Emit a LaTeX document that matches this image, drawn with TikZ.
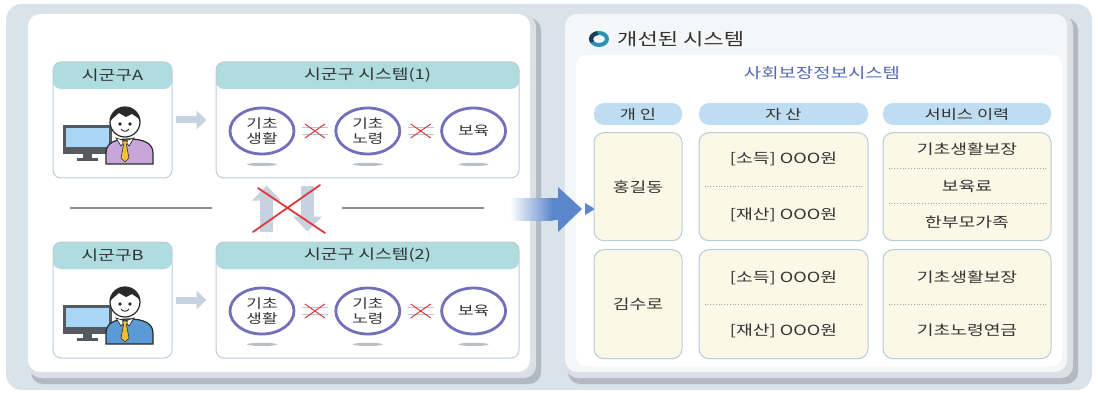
\documentclass[tikz,border=0pt]{standalone}
\usepackage{fontspec}
\newfontfamily\kr[FakeStretch=1.3]{Noto Sans CJK KR}
\usepackage{tikz}
\usetikzlibrary{arrows.meta,positioning,calc,shapes.geometric}
\definecolor{cBg}{HTML}{DAE3EA}
\definecolor{cPanel}{HTML}{F5F6F7}
\definecolor{cShadow}{HTML}{B2B9C0}
\definecolor{cBevel}{HTML}{DCE0E4}
\definecolor{cHead}{HTML}{AEDCDF}
\definecolor{cBoxEdge}{HTML}{BCCDD8}
\definecolor{cRing}{HTML}{7370BA}
\definecolor{cLight}{HTML}{C6D2DF}
\definecolor{cCross}{HTML}{E0393B}
\definecolor{cLink}{HTML}{A9CBE3}
\definecolor{cShade}{HTML}{BAC0C7}
\definecolor{cLine}{HTML}{8C8F92}
\definecolor{cArrow}{HTML}{5B86CB}
\definecolor{cTeal}{HTML}{2B93B5}
\definecolor{cTealDark}{HTML}{1D3B52}
\definecolor{cText}{HTML}{333333}
\definecolor{cSub}{HTML}{5767B4}
\definecolor{cPill}{HTML}{BFDDF2}
\definecolor{cCell}{HTML}{FBF8E7}
\definecolor{cCellEdge}{HTML}{B9CCD9}
\definecolor{cDot}{HTML}{A5A5A5}
\definecolor{cInk}{HTML}{2A2A2A}
\definecolor{cMon}{HTML}{555A60}
\definecolor{cScreen}{HTML}{A9D6F5}
\definecolor{cTie}{HTML}{F2C230}
\definecolor{cSuitA}{HTML}{C9A6DA}
\definecolor{cSuitB}{HTML}{5A9BD5}
\tikzset{
  unitbox/.style={rounded corners=8pt, draw=cBoxEdge, line width=1pt, fill=white,
    path picture={\fill[cHead] (path picture bounding box.north west)
      rectangle ([yshift=-27pt]path picture bounding box.north east);}},
  headtxt/.style={font=\kr\fontsize{14}{16}\selectfont, text=cText, inner sep=0pt},
  svc/.style={ellipse, draw=cRing, line width=2.8pt, fill=white, minimum width=64pt,
    minimum height=46pt, inner sep=0pt, align=center, text=cText,
    font=\kr\fontsize{13}{15}\selectfont},
  titletxt/.style={font=\kr\fontsize{17}{19}\selectfont, text=cText, inner sep=0pt},
  subtxt/.style={font=\kr\fontsize{14.5}{16}\selectfont, text=cSub, inner sep=0pt},
  pill/.style={rounded corners=10pt, fill=cPill, minimum height=22pt, inner sep=0pt,
    text=cText, font=\kr\fontsize{13.5}{15}\selectfont},
  cell/.style={rounded corners=10pt, draw=cCellEdge, line width=1pt, fill=cCell,
    inner sep=0pt, text=cText, font=\kr\fontsize{14}{16}\selectfont},
  celltxt/.style={text=cText, inner sep=0pt, font=\kr\fontsize{14}{16}\selectfont},
  dotrule/.style={draw=cDot, line width=0.8pt, dotted},
  feed/.style={-{Triangle[length=10pt,width=18pt]}, line width=7pt, draw=cLight},
  flowcross/.style={-{Triangle[length=15pt,width=28pt]}, line width=13pt, draw=cLight},
  redx/.style={draw=cCross, line width=1.8pt, line cap=round},
  divider/.style={draw=cLine, line width=2.4pt},
  pics/clerk/.style={code={
    \fill[cMon] (-62,3) rectangle (-13,32);
    \fill[cScreen] (-59,6) rectangle (-16,25);
    \fill[cMon] (-42,32) rectangle (-33,36);
    \fill[cMon] (-48,36) rectangle (-27,39);
    \filldraw[fill=#1, draw=cInk, line width=1.2pt] (-19,42) -- (-19,31)
      .. controls (-19,21) and (-10,17) .. (4,17)
      .. controls (18,17) and (28,21) .. (28,31) -- (28,42) -- cycle;
    \filldraw[fill=white, draw=cInk, line width=0.7pt] (-9,16) -- (0,19) -- (-4,24) -- cycle;
    \filldraw[fill=white, draw=cInk, line width=0.7pt] (9,16) -- (0,19) -- (4,24) -- cycle;
    \filldraw[fill=cTie, draw=cInk, line width=0.6pt] (-2.5,19) -- (2.5,19) -- (1.5,23)
      -- (4,36) -- (0,40) -- (-4,36) -- (-1.5,23) -- cycle;
    \filldraw[fill=white, draw=cInk, line width=1.2pt] (0,0) circle (15);
    \fill[cInk] (-15,0) arc (180:360:15) -- (13,-4) -- (7,-8) -- (1,-5) -- (-6,-9)
      -- (-13,-3) -- cycle;
    \fill[cInk] (-5,2) circle (1.8) (5,2) circle (1.8);
    \draw[cInk, line width=0.9pt] (-4,7) .. controls (-2,10) and (2,10) .. (4,7);
  }},
  pics/nolink/.style={code={
    \draw[cLink, line width=1pt] (-13,-3.5) -- (13,-3.5) (-13,3.5) -- (13,3.5);
    \draw[cCross, line width=1pt] (-10,-7) -- (10,7) (-10,7) -- (10,-7);
  }},
}

\begin{document}
\begin{tikzpicture}[x=1pt, y=-1pt]
  \useasboundingbox (0,0) rectangle (1098,393);
  \fill[cBg, rounded corners=16pt] (6,4) rectangle (1092,390);

  % two panels with bevelled edge
  \fill[cShadow, rounded corners=12pt] (31,18) rectangle (541,384);
  \fill[cBevel, rounded corners=12pt] (29,15) rectangle (536,378);
  \fill[white, rounded corners=12pt] (28,14) rectangle (530,372);
  \fill[cShadow, rounded corners=12pt] (568,18) rectangle (1078,384);
  \fill[cBevel, rounded corners=12pt] (566,15) rectangle (1073,378);
  \fill[cPanel, rounded corners=12pt] (565,14) rectangle (1067,372);
  \fill[white, rounded corners=10pt] (576,55) rectangle (1062,366);

  % local offices
  \node[unitbox, minimum width=119pt, minimum height=116pt] (cityA) at (112.5,120) {};
  \node[unitbox, minimum width=303pt, minimum height=116pt] (sysA) at (367.5,120) {};
  \node[unitbox, minimum width=119pt, minimum height=116pt] (cityB) at (112.5,300) {};
  \node[unitbox, minimum width=303pt, minimum height=116pt] (sysB) at (367.5,300) {};
  \node[headtxt] at ([yshift=-13.5pt]cityA.north) {시군구A};
  \node[headtxt] at ([yshift=-13.5pt]sysA.north) {시군구 시스템(1)};
  \node[headtxt] at ([yshift=-13.5pt]cityB.north) {시군구B};
  \node[headtxt] at ([yshift=-13.5pt]sysB.north) {시군구 시스템(2)};
  \pic at (125,122) {clerk=cSuitA};
  \pic at (125,302) {clerk=cSuitB};
  \draw[feed] ([xshift=3pt]cityA.east) -- ([xshift=-9pt]sysA.west);
  \draw[feed] ([xshift=3pt]cityB.east) -- ([xshift=-9pt]sysB.west);

  \node[svc] (basicA) at (262,131) {기초\\생활};
  \node[svc, right=39pt of basicA] (eldA) {기초\\노령};
  \node[svc, right=39pt of eldA] (careA) {보육};
  \node[svc] (basicB) at (262,311) {기초\\생활};
  \node[svc, right=39pt of basicB] (eldB) {기초\\노령};
  \node[svc, right=39pt of eldB] (careB) {보육};
  \foreach \n in {basicA,eldA,careA,basicB,eldB,careB}
    \fill[cShade] ([yshift=-9pt]\n.south) ellipse (15 and 1.6);
  \pic at ($(basicA.east)!0.5!(eldA.west)$) {nolink};
  \pic at ($(eldA.east)!0.5!(careA.west)$) {nolink};
  \pic at ($(basicB.east)!0.5!(eldB.west)$) {nolink};
  \pic at ($(eldB.east)!0.5!(careB.west)$) {nolink};

  % no exchange between offices
  \draw[divider] (70,208) -- (212,208);
  \draw[divider] (342,208) -- (484,208);
  \draw[flowcross] ([xshift=51pt,yshift=10pt]sysB.north west) -- ([xshift=51pt,yshift=-7pt]sysA.south west);
  \draw[flowcross] ([xshift=92pt,yshift=-7pt]sysA.south west) -- ([xshift=92pt,yshift=10pt]sysB.north west);
  \coordinate (cross) at (289,209);
  \draw[redx] ($(cross)+(-36,23)$) -- ($(cross)+(31,-24)$)
              ($(cross)+(-31,-21)$) -- ($(cross)+(36,24)$);

  % big arrow into the new system
  \shade[left color=white, right color=cArrow] (510,198) rectangle (553,220);
  \fill[cArrow] (552,198) -- (558,198) -- (558,187) -- (582,209) -- (558,232)
    -- (558,220) -- (552,220) -- cycle;
  \fill[cArrow] (585,203) -- (595,209) -- (585,215) -- cycle;

  % integrated system
  \node[titletxt, anchor=west] (newsys) at (617,39) {개선된 시스템};
  \draw[cTeal, line width=4pt] (599,39) ellipse (8 and 6);
  \draw[cTealDark, line width=4pt] (599,39) ++(150:8 and 6)
    arc[start angle=150, end angle=260, x radius=8, y radius=6];
  \node[subtxt] (ssis) at (822,73) {사회보장정보시스템};

  \node[pill, minimum width=88pt] (colPerson) at (638,114) {개 인};
  \node[pill, minimum width=169pt] (colAsset) at (783.5,114) {자 산};
  \node[pill, minimum width=168pt] (colService) at (967,114) {서비스 이력};

  \node[cell, minimum width=88pt, minimum height=108pt, below=7pt of colPerson] (hong) {홍길동};
  \node[cell, minimum width=169pt, minimum height=108pt, below=7pt of colAsset] (hongAsset) {};
  \node[cell, minimum width=168pt, minimum height=108pt, below=7pt of colService] (hongService) {};
  \node[cell, minimum width=88pt, minimum height=109pt, below=8pt of hong] (kim) {김수로};
  \node[cell, minimum width=169pt, minimum height=109pt, below=8pt of hongAsset] (kimAsset) {};
  \node[cell, minimum width=168pt, minimum height=109pt, below=8pt of hongService] (kimService) {};

  \node[celltxt] at ([yshift=28pt]hongAsset.center) {[소득] OOO원};
  \draw[dotrule] ([xshift=6pt]hongAsset.west) -- ([xshift=-6pt]hongAsset.east);
  \node[celltxt] at ([yshift=-28pt]hongAsset.center) {[재산] OOO원};
  \node[celltxt] at ([yshift=37pt]hongService.center) {기초생활보장};
  \draw[dotrule] ([xshift=6pt,yshift=18pt]hongService.west) -- ([xshift=-6pt,yshift=18pt]hongService.east);
  \node[celltxt] at (hongService.center) {보육료};
  \draw[dotrule] ([xshift=6pt,yshift=-17pt]hongService.west) -- ([xshift=-6pt,yshift=-17pt]hongService.east);
  \node[celltxt] at ([yshift=-36pt]hongService.center) {한부모가족};

  \node[celltxt] at ([yshift=26pt]kimAsset.center) {[소득] OOO원};
  \draw[dotrule] ([xshift=6pt]kimAsset.west) -- ([xshift=-6pt]kimAsset.east);
  \node[celltxt] at ([yshift=-27pt]kimAsset.center) {[재산] OOO원};
  \node[celltxt] at ([yshift=27pt]kimService.center) {기초생활보장};
  \draw[dotrule] ([xshift=6pt]kimService.west) -- ([xshift=-6pt]kimService.east);
  \node[celltxt] at ([yshift=-26pt]kimService.center) {기초노령연금};
\end{tikzpicture}
\end{document}
